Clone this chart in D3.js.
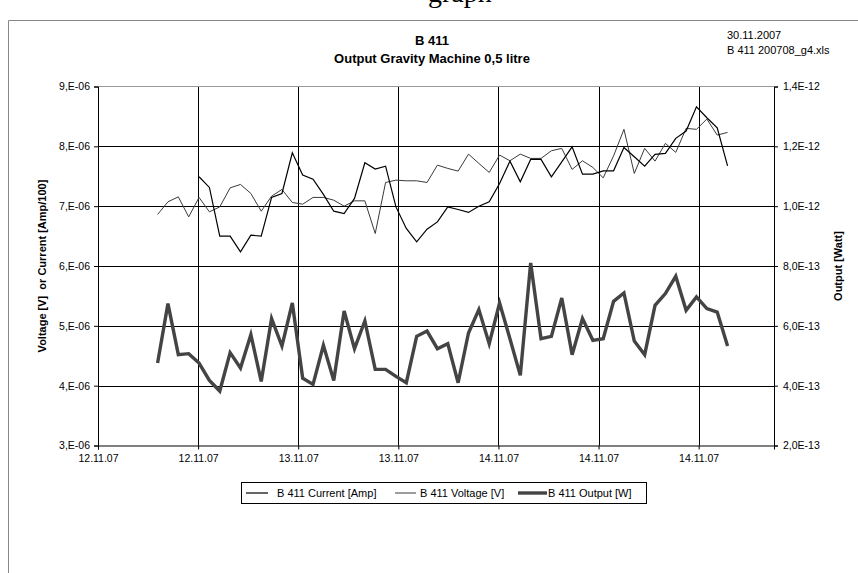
<!DOCTYPE html>
<html><head><meta charset="utf-8">
<script src="https://cdn.jsdelivr.net/npm/d3@7"></script>
<style>
body{margin:0;background:#fff}
svg{display:block}
text{font-family:"Liberation Sans",Arial,sans-serif;fill:#000}
</style>
</head><body>
<svg id="c" width="858" height="573"></svg>
<script>
// ---- data (sample index = hourly readings) ----
const voltage = [6.861,7.072,7.156,6.821,7.146,6.905,6.988,7.306,7.363,7.212,
  6.916,7.167,7.279,7.062,7.033,7.146,7.146,7.100,7.000,7.089,
  7.089,6.543,7.396,7.435,7.424,7.424,7.396,7.686,7.631,7.586,
  7.870,7.715,7.564,7.854,7.759,7.870,7.798,7.798,7.926,7.966,
  7.614,7.759,7.647,7.474,7.840,8.284,7.547,7.966,7.753,8.049,
  7.899,8.300,8.284,8.456,8.188,8.233]; // x 1E-06
const current = [null,null,null,null,7.491,7.313,6.498,6.498,6.235,6.515,
  6.498,7.146,7.212,7.892,7.519,7.452,7.196,6.916,6.878,7.129,
  7.725,7.619,7.669,6.988,6.627,6.403,6.615,6.737,6.988,6.945,
  6.895,7.000,7.072,7.380,7.753,7.407,7.782,7.782,7.490,7.741,
  7.992,7.536,7.536,7.591,7.591,7.981,7.825,7.669,7.865,7.882,
  8.133,8.255,8.662,8.478,8.310,7.674]; // x 1E-06 (Amp/100)
const output = [4.755,6.743,5.036,5.070,4.755,4.176,3.820,5.103,4.590,5.705,
  4.142,6.241,5.324,6.763,4.253,4.042,5.347,4.176,6.495,5.236,
  6.161,4.544,4.544,4.310,4.098,5.649,5.826,5.236,5.404,4.098,
  5.760,6.542,5.404,6.763,5.570,4.343,8.102,5.570,5.649,6.930,
  5.036,6.241,5.515,5.570,6.820,7.098,5.490,5.036,6.686,7.078,
  7.657,6.519,6.964,6.575,6.462,5.324]; // x 1E-13

const xTickLabels = ["12.11.07","12.11.07","13.11.07","13.11.07","14.11.07","14.11.07","14.11.07"];
const xAxisStart = -5.75, xTickStep = 9.66, xAxisEnd = 59.48;   // in sample-index units
const leftTickValues = [3e-6,4e-6,5e-6,6e-6,7e-6,8e-6,9e-6];
const leftTickLabels = ["3,E-06","4,E-06","5,E-06","6,E-06","7,E-06","8,E-06","9,E-06"];
const rightTickValues = [2e-13,4e-13,6e-13,8e-13,1e-12,1.2e-12,1.4e-12];
const rightTickLabels = ["2,0E-13","4,0E-13","6,0E-13","8,0E-13","1,0E-12","1,2E-12","1,4E-12"];
const seriesNames = ["B 411 Current [Amp]","B 411 Voltage [V]","B 411 Output [W]"];

// ---- layout ----
const svg = d3.select("#c");
const L = 98, R = 774, T = 86.5, B = 445.5;

const x = d3.scaleLinear().domain([xAxisStart, xAxisEnd]).range([L, R]);
const yL = d3.scaleLinear().domain([3e-6, 9e-6]).range([B, T]);
const yR = d3.scaleLinear().domain([2e-13, 1.4e-12]).range([B, T]);
const xTickValues = xTickLabels.map((d,i)=> xAxisStart + i*xTickStep);

// outer frame
svg.append("path").attr("d","M8.5,573 L8.5,20.5 L858,20.5").attr("fill","none").attr("stroke","#888").attr("stroke-width",1);

// cut-off document text at top (only descenders visible in the reference)
svg.append("text").attr("x",428).attr("y",2).attr("font-size",28)
  .style("font-family","'Liberation Serif','Times New Roman',serif").text("graph");

// gridlines
const g = svg.append("g");
g.selectAll(".hg").data(leftTickValues.slice(1,-1)).join("line")
  .attr("x1",L).attr("x2",R).attr("y1",d=>Math.round(yL(d))+0.5).attr("y2",d=>Math.round(yL(d))+0.5)
  .attr("stroke","#000").attr("stroke-width",1);
g.selectAll(".vg").data(xTickValues.slice(1)).join("line")
  .attr("y1",T).attr("y2",B).attr("x1",d=>Math.round(x(d))+0.5).attr("x2",d=>Math.round(x(d))+0.5)
  .attr("stroke","#000").attr("stroke-width",1);
// top border of plot
g.append("line").attr("x1",L).attr("x2",R).attr("y1",T).attr("y2",T).attr("stroke","#999");

// axes
const fs = 10.5;
const ax = svg.append("g").attr("transform",`translate(0,${B})`)
  .call(d3.axisBottom(x).tickValues(xTickValues).tickFormat((d,i)=>xTickLabels[i]).tickSize(4).tickPadding(5));
const ayl = svg.append("g").attr("transform",`translate(${L},0)`)
  .call(d3.axisLeft(yL).tickValues(leftTickValues).tickFormat((d,i)=>leftTickLabels[i]).tickSize(4).tickPadding(4));
const ayr = svg.append("g").attr("transform",`translate(${R},0)`)
  .call(d3.axisRight(yR).tickValues(rightTickValues).tickFormat((d,i)=>rightTickLabels[i]).tickSize(4).tickPadding(5));
[ax,ayl,ayr].forEach(a=>{
  a.select(".domain").attr("stroke","#000");
  a.selectAll(".tick line").attr("stroke","#000");
  a.selectAll("text").attr("font-size",fs).style("font-family","'Liberation Sans',Arial,sans-serif").attr("fill","#000");
});

// series lines
const lineL = d3.line().defined(d=>d!=null).x((d,i)=>x(i)).y(d=>yL(d*1e-6));
const lineR = d3.line().x((d,i)=>x(i)).y(d=>yR(d*1e-13));
svg.append("path").datum(output).attr("d",lineR).attr("fill","none").attr("stroke","#444").attr("stroke-width",3.4).attr("stroke-linejoin","miter");
svg.append("path").datum(voltage).attr("d",lineL).attr("fill","none").attr("stroke","#3a3a3a").attr("stroke-width",1);
svg.append("path").datum(current).attr("d",lineL).attr("fill","none").attr("stroke","#000").attr("stroke-width",1.2);

// titles
svg.append("text").attr("x",432).attr("y",45).attr("text-anchor","middle").attr("font-size",13).attr("font-weight","bold").text("B 411");
svg.append("text").attr("x",432).attr("y",63).attr("text-anchor","middle").attr("font-size",13).attr("font-weight","bold").text("Output Gravity Machine 0,5 litre");
svg.append("text").attr("x",727).attr("y",39).attr("font-size",11).text("30.11.2007");
svg.append("text").attr("x",727).attr("y",54).attr("font-size",11).text("B 411 200708_g4.xls");

// axis titles
svg.append("text").attr("transform","translate(46,266) rotate(-90)").attr("text-anchor","middle")
  .attr("font-size",11).attr("font-weight","bold").attr("xml:space","preserve").text("Voltage [V]  or Current [Amp/100]");
svg.append("text").attr("transform","translate(842,266) rotate(-90)").attr("text-anchor","middle")
  .attr("font-size",11).attr("font-weight","bold").text("Output [Watt]");

// legend
const lg = svg.append("g");
lg.append("rect").attr("x",241.5).attr("y",482.5).attr("width",405).attr("height",21).attr("fill","#fff").attr("stroke","#000");
const legendItems = [
  {name:seriesNames[0], x0:246, x1:268, tx:277, stroke:"#000", w:1.2},
  {name:seriesNames[1], x0:395, x1:416, tx:420, stroke:"#3a3a3a", w:1},
  {name:seriesNames[2], x0:518, x1:547, tx:548, stroke:"#444", w:3.4}
];
legendItems.forEach(it=>{
  lg.append("line").attr("x1",it.x0).attr("x2",it.x1).attr("y1",493).attr("y2",493).attr("stroke",it.stroke).attr("stroke-width",it.w);
  lg.append("text").attr("x",it.tx).attr("y",497).attr("font-size",11).text(it.name);
});
</script>
</body></html>
